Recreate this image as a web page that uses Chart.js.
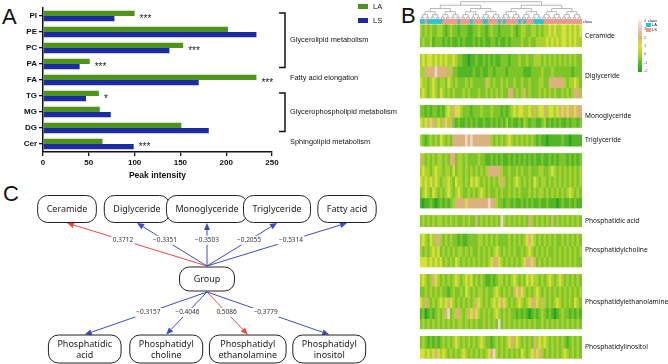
<!DOCTYPE html>
<html lang="en">
<head>
<meta charset="UTF-8">
<title>Lipid classes LA vs LS</title>
<script src="https://cdn.jsdelivr.net/npm/chart.js"></script>
<style>
  body { margin:0; width:668px; height:364px; background:#fff; position:relative; overflow:hidden; font-family:"Liberation Sans", Arial, sans-serif; }
  canvas { position:absolute; }
  .tag { position:absolute; font-size:22px; line-height:22px; color:#111; }
</style>
</head>
<body>
<div class="tag" style="left:2px;top:6px">A</div>
<div class="tag" style="left:401px;top:5px">B</div>
<div class="tag" style="left:3px;top:183px">C</div>
<canvas id="bars" style="left:0;top:0" width="400" height="185"></canvas>
<canvas id="heat" style="left:420px;top:0" width="248" height="364"></canvas>
<canvas id="net" style="left:0;top:185px" width="400" height="179"></canvas>
<script>
// ---- panel A data
const lipids = ["PI", "PE", "PC", "PA", "FA", "TG", "MG", "DG", "Cer"];
const laValues = [100, 202, 153, 51, 233, 61, 62, 151, 65];
const lsValues = [78, 233, 138, 40, 170, 47, 74, 181, 99];
const significance = ["***", "", "***", "***", "***", "*", "", "", "***"];
const pathwayNames = ["Glycerolipid metabolism", "Fatty acid elongation", "Glycerophospholipid metabolism", "Sphingolipid metabolism"];
const pathwaySpans = [["PI", "PA"], ["FA", "FA"], ["TG", "DG"], ["Cer", "Cer"]];

// ---- panel B data (one char per sample, colour level 0 = -2 ... 6 = 4)
const sampleClass = "CCSCCCCCCSSSSSSCSSSSCSSSSCCSSSSCSCSSSSSCSCSSSCCCCSSSSSSSSSSSSSSS";
const ceramideRows = [
  "32323223 32123221 22211223 22123221 22223212 33223323 23343433 44343434",
  "23223122 21212112 12111212 12112212 11212222 32232233 33434343 44343433"];
const diglycerideRows = [
  "34344343 43433432 21101121 12121211 22212223 22322333 23232323 23232322",
  "33555565 55535221 11111211 21122122 22122222 21112222 32223222 22221222",
  "43323432 33243232 22323222 22532322 32322322 32232223 32255555 53233432",
  "34323432 43232322 23232223 22323232 32255232 35232223 23232322 32323553"];
const monoglycerideRows = [
  "22121221 21343544 32221222 32223222 12123434 43343534 45344345 45455455",
  "43454534 35435212 11212121 12112121 21312112 13212211 23121212 11212212"];
const triglycerideRows = [
  "32123232 43232555 55656555 55553232 32343232 32323212 11011111 21101111"];
const unlabeledRows = [
  "53232323 32325523 32322223 22112121 21121212 12121211 21121212 22121212",
  "34332343 32332423 32323232 32355555 32232232 32232223 32234323 23232323",
  "43434343 23343243 32324343 23232323 53232343 23232432 33232323 23232323",
  "23432432 32343234 32232323 43232232 32232323 22232323 32323232 32343232",
  "10112101 21212355 55455555 55565532 21221211 21212112 11211101 21121211"];
const paRows = [
  "23232323 32323232 23232252 32323232 63232323 23253232 32325232 32323232"];
const pcRows = [
  "34324355 32323221 21122223 32323232 22232323 23454323 23232322 32323232",
  "32323434 23232323 32323223 23232343 23232322 32343232 32322323 23232323",
  "44434343 42323243 23232323 23234554 32323232 34554523 23232323 23232322"];
const peRows = [
  "34323543 23232343 23434232 32112123 32323432 32434332 32343234 32323232",
  "22323232 32212322 32432323 32322343 23232545 43232343 23232323 23232323",
  "43532323 43454323 23232354 32323434 54323234 32345543 53232343 23232432",
  "12012123 23562355 32354543 23232343 23232212 12101212 32121012 32212121",
  "23232323 23232323 32323232 23232326 23232323 23232322 32323232 32323232"];
const piRows = [
  "23212121 23232343 23232323 43221232 32345343 23232534 34323232 32123232",
  "44343454 34323232 34323232 32345632 32323232 43234545 32323232 34323232"];
const heatGroups = ["Ceramide", "Diglyceride", "Monoglyceride", "Triglyceride", "", "Phosphatidic acid", "Phosphatidylcholine", "Phosphatidylethanolamine", "Phosphatidylinositol"];
const heatGroupRows = [ceramideRows, diglycerideRows, monoglycerideRows, triglycerideRows, unlabeledRows, paRows, pcRows, peRows, piRows];
const colorbarTicks = [4, 3, 2, 1, 0, -1, -2];

// ---- panel C data
const topNodes = ["Ceramide", "Diglyceride", "Monoglyceride", "Triglyceride", "Fatty acid"];
const topCorr = [0.3712, -0.3351, -0.3503, -0.2055, -0.5314];
const bottomNodes = [["Phosphatidic", "acid"], ["Phosphatidyl", "choline"], ["Phosphatidyl", "ethanolamine"], ["Phosphatidyl", "inositol"]];
const bottomCorr = [-0.3157, -0.4046, 0.5086, -0.3779];

const INK = "#111";
const LA_COLOR = "#4f941a", LS_COLOR = "#1c2c9e";

// ================= A: horizontal bars
const barExtras = {
  id: "barExtras",
  afterDraw(chart) {
    const { ctx, scales: { x, y } } = chart;
    ctx.save();
    // significance stars
    ctx.fillStyle = "#222";
    ctx.font = "10px 'Liberation Sans', Arial";
    ctx.textBaseline = "middle";
    significance.forEach((s, i) => {
      if (!s) return;
      const px = x.getPixelForValue(Math.max(laValues[i], lsValues[i])) + 5;
      ctx.fillText(s, px, y.getPixelForValue(i) + 3);
    });
    // pathway brackets and names
    const bx = chart.chartArea.right + 13;
    ctx.strokeStyle = INK;
    ctx.lineWidth = 1.5;
    ctx.font = "7.4px 'Liberation Sans', Arial";
    ctx.fillStyle = INK;
    pathwaySpans.forEach(([a, b], k) => {
      const y0 = y.getPixelForValue(lipids.indexOf(a));
      const y1 = y.getPixelForValue(lipids.indexOf(b));
      if (a !== b) {
        ctx.beginPath();
        ctx.moveTo(bx - 6, y0 - 3);
        ctx.lineTo(bx, y0 - 3);
        ctx.lineTo(bx, y1 + 3.5);
        ctx.lineTo(bx - 6, y1 + 3.5);
        ctx.stroke();
      }
      ctx.fillText(pathwayNames[k], bx + 5, (y0 + y1) / 2 - (a === b ? 2.5 : 0));
    });
    // legend
    ctx.font = "7.5px 'Liberation Sans', Arial";
    chart.data.datasets.forEach((ds, i) => {
      ctx.fillStyle = ds.backgroundColor;
      ctx.fillRect(358, 4 + i * 14, 10, 5);
      ctx.fillStyle = INK;
      ctx.fillText(ds.label, 373, 6.5 + i * 14);
    });
    ctx.restore();
  }
};

new Chart(document.getElementById("bars"), {
  type: "bar",
  data: {
    labels: lipids,
    datasets: [
      { label: "LA", data: laValues, backgroundColor: LA_COLOR },
      { label: "LS", data: lsValues, backgroundColor: LS_COLOR }
    ]
  },
  options: {
    indexAxis: "y",
    responsive: false,
    animation: false,
    devicePixelRatio: 1,
    categoryPercentage: 0.66,
    barPercentage: 1,
    layout: { padding: { top: 8, right: 128, left: 0, bottom: 0 } },
    plugins: { legend: { display: false }, tooltip: { enabled: false } },
    scales: {
      x: {
        min: 0, max: 250,
        ticks: { stepSize: 50, color: INK, font: { size: 8, weight: "bold", family: "'Liberation Sans', Arial" }, padding: 2 },
        grid: { drawOnChartArea: false, tickLength: 4, color: INK, lineWidth: 1.3 },
        border: { color: INK, width: 1.5 },
        title: { display: true, text: "Peak intensity", color: INK, font: { size: 8.5, weight: "bold", family: "'Liberation Sans', Arial" }, padding: { top: 3, bottom: 4 } },
        afterFit: s => { s.height = 33; }
      },
      y: {
        ticks: { color: INK, font: { size: 8, weight: "bold", family: "'Liberation Sans', Arial" }, padding: 2 },
        grid: { offset: false, drawOnChartArea: false, tickLength: 4, color: INK, lineWidth: 1.3 },
        border: { color: INK, width: 1.5 },
        afterFit: s => { s.width = 43; }
      }
    }
  },
  plugins: [barExtras]
});

// ================= B: clustered heatmap
const heatColors = ["#2aa222", "#52b626", "#7ec52b", "#a9d231", "#d6df3c", "#dbb27e", "#ebd6d0"];
const classColors = { C: "#2cc3d4", S: "#f0988c" };
const blockGap = 0.72;
const cellOverlap = 0.06;   // hides antialias seams between stacked rows
const sampleLabels = sampleClass.split("").map((_, i) => "s" + (i + 1));

const heatSets = [];
const groupBands = [];
let rowY = 0;
heatGroupRows.forEach(rows => {
  const top = rowY;
  rows.forEach((row, r) => {
    const codes = row.replace(/\s/g, "").split("").map(Number);
    const end = rowY + 1 + (r < rows.length - 1 ? cellOverlap : 0);
    heatSets.push({
      data: codes.map(() => [rowY, end]),
      backgroundColor: codes.map(c => heatColors[c]),
      borderWidth: 0, grouped: false, inflateAmount: 0.5
    });
    rowY += 1;
  });
  groupBands.push([top, rowY]);
  rowY += blockGap;
});
heatSets.push({
  data: sampleClass.split("").map(() => [-0.5, -0.15]),
  backgroundColor: sampleClass.split("").map(c => classColors[c]),
  borderWidth: 0, grouped: false, inflateAmount: 0.5
});

const heatExtras = {
  id: "heatExtras",
  afterDraw(chart) {
    const { ctx, scales: { x, y }, chartArea } = chart;
    ctx.save();
    // dendrogram, pairwise merges from the leaves up
    const leafY = y.getPixelForValue(-0.52), topY = y.getPixelForValue(-2.15);
    let nodes = sampleLabels.map((_, i) => ({ x: x.getPixelForValue(i), y: leafY }));
    const levels = Math.ceil(Math.log2(nodes.length));
    let level = 1;
    ctx.strokeStyle = "#9a9a9a";
    ctx.lineWidth = 0.7;
    ctx.beginPath();
    while (nodes.length > 1) {
      const hy = leafY - (leafY - topY) * Math.pow(level / levels, 1.2);
      const next = [];
      for (let i = 0; i < nodes.length; i += 2) {
        const a = nodes[i], b = nodes[i + 1];
        if (!b) { next.push(a); continue; }
        ctx.moveTo(a.x, a.y); ctx.lineTo(a.x, hy); ctx.lineTo(b.x, hy); ctx.lineTo(b.x, b.y);
        next.push({ x: (a.x + b.x) / 2, y: hy });
      }
      nodes = next; level++;
    }
    ctx.stroke();
    // row group names
    ctx.fillStyle = INK;
    ctx.textBaseline = "middle";
    ctx.font = "4px 'Liberation Sans', Arial";
    ctx.fillText("class", chartArea.right + 1, y.getPixelForValue(-0.33));
    ctx.font = "6.6px 'Noto Sans', sans-serif";
    heatGroups.forEach((name, g) => {
      const [a, b] = groupBands[g];
      ctx.fillText(name, chartArea.right + 3, y.getPixelForValue((a + b) / 2));
    });
    // colour key
    const kx = 218, ky0 = 20, ky1 = 72;
    const grad = ctx.createLinearGradient(0, ky0, 0, ky1);
    grad.addColorStop(0, "#f4ecec");
    grad.addColorStop(0.17, "#e9c9bb");
    grad.addColorStop(0.33, "#dfb27c");
    grad.addColorStop(0.5, "#d9e03a");
    grad.addColorStop(0.67, "#a9d230");
    grad.addColorStop(0.83, "#5cb826");
    grad.addColorStop(1, "#22a01e");
    ctx.fillStyle = grad;
    ctx.fillRect(kx, ky0, 4, ky1 - ky0);
    ctx.fillStyle = "#555";
    ctx.font = "4px 'Liberation Sans', Arial";
    colorbarTicks.forEach((t, i) => {
      ctx.fillText(String(t), kx + 6, ky0 + 1 + i * (ky1 - ky0 - 2) / (colorbarTicks.length - 1));
    });
    ctx.fillStyle = INK;
    ctx.fillText("class", kx + 10, 21);
    [["C", "LA"], ["S", "LS"]].forEach(([c, name], i) => {
      ctx.fillStyle = classColors[c];
      ctx.fillRect(kx + 8, 23 + i * 5, 5, 4);
      ctx.fillStyle = INK;
      ctx.fillText(name, kx + 14, 25 + i * 5);
    });
    ctx.restore();
  }
};

new Chart(document.getElementById("heat"), {
  type: "bar",
  data: { labels: sampleLabels, datasets: heatSets },
  options: {
    responsive: false,
    animation: false,
    devicePixelRatio: 1,
    categoryPercentage: 1,
    barPercentage: 1,
    layout: { padding: { left: 0, right: 86, top: 0, bottom: 0 } },
    plugins: { legend: { display: false }, tooltip: { enabled: false } },
    scales: {
      x: { display: false },
      y: { display: false, min: -2.31, max: 31.3, reverse: true }
    }
  },
  plugins: [heatExtras]
});

// ================= C: correlation network
const topGap = 70, bottomGap = 81.5;
const netPoints = [{ x: 0, y: 1 }]
  .concat(topNodes.map((_, i) => ({ x: (i - (topNodes.length - 1) / 2) * topGap, y: 0 })))
  .concat(bottomNodes.map((_, j) => ({ x: (j - (bottomNodes.length - 1) / 2) * bottomGap, y: 2 })));

function fmt(v) { return (v < 0 ? "\u2212" : "") + Math.abs(v).toFixed(4); }

function roundBox(ctx, cx, cy, w, h, r) {
  ctx.beginPath();
  ctx.roundRect(cx - w / 2, cy - h / 2, w, h, r);
  ctx.fillStyle = "#fff";
  ctx.fill();
  ctx.strokeStyle = "#222";
  ctx.lineWidth = 1;
  ctx.stroke();
}

function arrow(ctx, x0, y0, x1, y1, color) {
  const ang = Math.atan2(y1 - y0, x1 - x0), L = 7, W = 3;
  ctx.strokeStyle = color;
  ctx.fillStyle = color;
  ctx.lineWidth = 1;
  ctx.beginPath();
  ctx.moveTo(x0, y0);
  ctx.lineTo(x1 - L * Math.cos(ang), y1 - L * Math.sin(ang));
  ctx.stroke();
  ctx.beginPath();
  ctx.moveTo(x1, y1);
  ctx.lineTo(x1 - L * Math.cos(ang) + W * Math.sin(ang), y1 - L * Math.sin(ang) - W * Math.cos(ang));
  ctx.lineTo(x1 - L * Math.cos(ang) - W * Math.sin(ang), y1 - L * Math.sin(ang) + W * Math.cos(ang));
  ctx.closePath();
  ctx.fill();
}

const netDraw = {
  id: "netDraw",
  afterDatasetsDraw(chart) {
    const { ctx, scales: { x, y } } = chart;
    const topH = 27, groupH = 24, bottomH = 28;
    const gx = x.getPixelForValue(0), gy = y.getPixelForValue(1);
    const edges = [];
    topNodes.forEach((n, i) => {
      const p = netPoints[1 + i];
      edges.push({ x0: gx, y0: gy - groupH / 2 - 1, x1: x.getPixelForValue(p.x), y1: y.getPixelForValue(p.y) + topH / 2 + 0.5, r: topCorr[i], t: 0.6 });
    });
    bottomNodes.forEach((n, j) => {
      const p = netPoints[1 + topNodes.length + j];
      edges.push({ x0: gx, y0: gy + groupH / 2 + 1, x1: x.getPixelForValue(p.x), y1: y.getPixelForValue(p.y) - bottomH / 2 - 0.5, r: bottomCorr[j], t: 0.48 });
    });
    ctx.save();
    edges.forEach(e => arrow(ctx, e.x0, e.y0, e.x1, e.y1, e.r > 0 ? "#e8483f" : "#3b4cc0"));
    // correlation labels
    ctx.font = "6.5px 'Noto Sans', sans-serif";
    ctx.textAlign = "center";
    ctx.textBaseline = "middle";
    edges.forEach(e => {
      const lx = e.x0 + (e.x1 - e.x0) * e.t, ly = e.y0 + (e.y1 - e.y0) * e.t;
      const s = fmt(e.r), w = ctx.measureText(s).width + 3;
      ctx.fillStyle = "#fff";
      ctx.fillRect(lx - w / 2, ly - 4.5, w, 9);
      ctx.fillStyle = "#333";
      ctx.fillText(s, lx, ly);
    });
    // nodes
    ctx.font = "9px 'Noto Sans', sans-serif";
    const boxW = lines => Math.max(55, Math.max(...lines.map(l => ctx.measureText(l).width)) + 18);
    const drawNode = (lines, p, h) => {
      const cx = x.getPixelForValue(p.x), cy = y.getPixelForValue(p.y);
      roundBox(ctx, cx, cy, boxW(lines), h, 10);
      ctx.fillStyle = "#222";
      lines.forEach((l, k) => ctx.fillText(l, cx, cy + (k - (lines.length - 1) / 2) * 11 + 0.5));
    };
    drawNode(["Group"], netPoints[0], groupH);
    topNodes.forEach((n, i) => drawNode([n], netPoints[1 + i], topH));
    bottomNodes.forEach((n, j) => drawNode(n, netPoints[1 + topNodes.length + j], bottomH));
    ctx.restore();
  }
};

new Chart(document.getElementById("net"), {
  type: "scatter",
  data: { datasets: [{ data: netPoints, pointRadius: 0 }] },
  options: {
    responsive: false,
    animation: false,
    devicePixelRatio: 1,
    layout: { padding: 0 },
    plugins: { legend: { display: false }, tooltip: { enabled: false } },
    scales: {
      x: { display: false, min: -207, max: 193 },
      y: { display: false, min: -0.343, max: 2.214, reverse: true }
    }
  },
  plugins: [netDraw]
});
</script>
</body>
</html>
